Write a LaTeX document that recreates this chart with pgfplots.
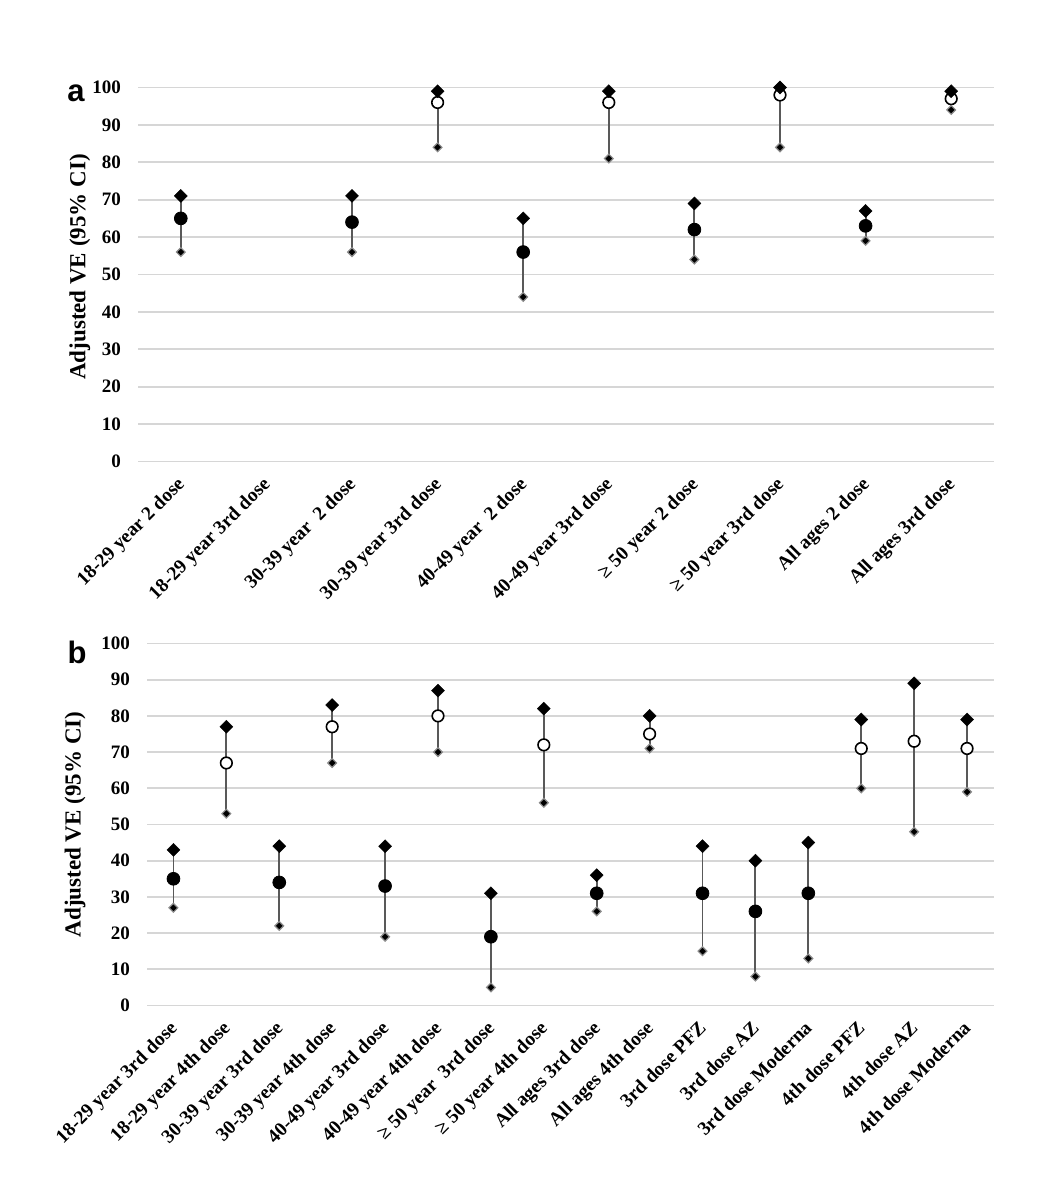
\documentclass[border=0pt]{standalone}
\usepackage{fontspec}
\setmainfont{Liberation Serif}
\setsansfont{Liberation Sans}
\usepackage{pgfplots}
\usepackage{pgfplotstable}
\pgfplotsset{compat=1.18}

% Panel a: estimates with 95% CI (2 doses = filled, 3rd dose = open)
\pgfplotstableread{
x est lo hi
0 65 56 71
2 64 56 71
4 56 44 65
6 62 54 69
8 63 59 67
}\atwo
\pgfplotstableread{
x est lo hi
3 96 84 99
5 96 81 99
7 98 84 100
9 97 94 99
}\athree

% Panel b: 3rd dose = filled, 4th dose = open
\pgfplotstableread{
x est lo hi
0 35 27 43
2 34 22 44
4 33 19 44
6 19 5 31
8 31 26 36
10 31 15 44
11 26 8 40
12 31 13 45
}\bthree
\pgfplotstableread{
x est lo hi
1 67 53 77
3 77 67 83
5 80 70 87
7 72 56 82
9 75 71 80
13 71 60 79
14 73 48 89
15 71 59 79
}\bfour

\pgfplotsset{
  vestyle/.style={
    scale only axis,
    ymin=0, ymax=100, ytick={0,10,...,100},
    xmin=-0.5,
    axis line style={draw=none},
    tick style={draw=none},
    ymajorgrids, major grid style={black!16, line width=0.9pt},
    /pgf/number format/assume math mode=true,
    yticklabel style={font=\bfseries\fontsize{9.5}{11}\selectfont, xshift=-5pt},
    xticklabel style={font=\bfseries\fontsize{9.7}{11}\selectfont,
      xshift=-2.5pt, yshift=-5.5pt, rotate=45, anchor=north east, inner sep=1pt},
    ylabel={Adjusted VE (95\% CI)},
    ylabel style={font=\bfseries\fontsize{11.5}{13}\selectfont, anchor=center},
    clip=false,
  },
  cibar/.style={only marks, mark=none,
    error bars/.cd, y dir=both, y explicit, error mark=none,
    error bar style={line width=0.95pt, black!65}},
  upperci/.style={only marks, mark=square*, mark size=2.3pt,
    mark options={rotate=45, fill=black, draw=black, line width=0.2pt}},
  lowerci/.style={only marks, mark=square*, mark size=1.55pt,
    mark options={rotate=45, fill=black, draw=black!45, line width=0.6pt}},
  ptfull/.style={only marks, mark=*, mark size=3.2pt,
    mark options={fill=black, draw=black}},
  ptopen/.style={only marks, mark=*, mark size=2.9pt,
    mark options={fill=white, draw=black, line width=0.8pt}},
}

\newcommand{\ciplot}[1]{%
  \addplot[cibar] table[x=x, y=est,
    y error plus expr={\thisrow{hi}-\thisrow{est}},
    y error minus expr={\thisrow{est}-\thisrow{lo}}] {#1};}

\begin{document}
\begin{tikzpicture}
\useasboundingbox (0,0) rectangle (520.5pt,600pt);

\node[font=\sffamily\bfseries\fontsize{15.5}{15.5}\selectfont] at (38pt,553.5pt) {a};
\node[font=\sffamily\bfseries\fontsize{15.5}{15.5}\selectfont] at (38.5pt,274pt) {b};

% ---------- panel a ----------
\begin{axis}[vestyle,
  at={(69pt,369.25pt)}, anchor=south west,
  width=428pt, height=187pt,
  xmax=9.5,
  xtick={0,...,9},
  xticklabels={18-29 year 2 dose, 18-29 year 3rd dose, 30-39 year~ 2 dose,
    30-39 year 3rd dose, 40-49 year~ 2 dose, 40-49 year 3rd dose,
    ≥ 50 year 2 dose, ≥ 50 year 3rd dose, All ages 2 dose, All ages 3rd dose},
  ylabel style={at={(axis description cs:-0.068,0.52)}},
]
\ciplot{\atwo}
\ciplot{\athree}
\addplot[ptfull] table[x=x, y=est] {\atwo};
\addplot[ptopen] table[x=x, y=est] {\athree};
\addplot[upperci] table[x=x, y=hi] {\atwo};
\addplot[upperci] table[x=x, y=hi] {\athree};
\addplot[lowerci] table[x=x, y=lo] {\atwo};
\addplot[lowerci] table[x=x, y=lo] {\athree};
\end{axis}

% ---------- panel b ----------
\begin{axis}[vestyle,
  at={(73.5pt,97.25pt)}, anchor=south west,
  width=423.25pt, height=181pt,
  xmax=15.5,
  xtick={0,...,15},
  xticklabels={18-29 year 3rd dose, 18-29 year 4th dose, 30-39 year 3rd dose,
    30-39 year 4th dose, 40-49 year 3rd dose, 40-49 year 4th dose,
    ≥ 50 year~ 3rd dose, ≥ 50 year 4th dose, All ages 3rd dose,
    All ages 4th dose, 3rd dose PFZ, 3rd dose AZ, 3rd dose Moderna,
    4th dose PFZ, 4th dose AZ, 4th dose Moderna},
  ylabel style={at={(axis description cs:-0.085,0.5)}},
]
\ciplot{\bthree}
\ciplot{\bfour}
\addplot[ptfull] table[x=x, y=est] {\bthree};
\addplot[ptopen] table[x=x, y=est] {\bfour};
\addplot[upperci] table[x=x, y=hi] {\bthree};
\addplot[upperci] table[x=x, y=hi] {\bfour};
\addplot[lowerci] table[x=x, y=lo] {\bthree};
\addplot[lowerci] table[x=x, y=lo] {\bfour};
\end{axis}
\end{tikzpicture}
\end{document}
